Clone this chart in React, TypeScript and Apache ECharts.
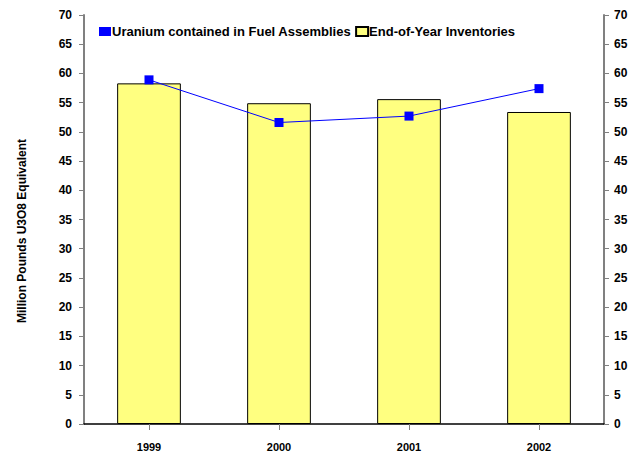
import React, { useEffect, useRef } from "react";
import * as echarts from "echarts";

const categories = ["1999", "2000", "2001", "2002"];
const fuelAssemblies = [58.9, 51.6, 52.7, 57.4];
const inventories = [58.3, 54.9, 55.6, 53.4];
const seriesNames = ["Uranium contained in Fuel Assemblies", "End-of-Year Inventories"];
const yAxisName = "Million Pounds U3O8 Equivalent";

const FONT = "'Liberation Sans Narrow', 'Arial Narrow', 'Liberation Sans', Arial, sans-serif";

export default function App() {
  const ref = useRef<HTMLDivElement>(null);
  useEffect(() => {
    if (!ref.current) return;
    const chart = echarts.init(ref.current, undefined, { renderer: "svg" });
    const axisCommon = {
      type: "value" as const,
      min: 0,
      max: 70,
      interval: 5,
      splitLine: { show: false },
      axisLine: { show: true, lineStyle: { color: "#808080", width: 2 } },
      axisTick: { show: true, length: 5, lineStyle: { color: "#808080", width: 1 } },
      axisLabel: { fontFamily: FONT, fontWeight: "bold", fontSize: 12, color: "#000", margin: 12 },
    };
    chart.setOption({
      animation: false,
      backgroundColor: "#fff",
      grid: { left: 84, right: 29, top: 15, bottom: 31 },
      legend: {
        left: 94,
        top: 20,
        itemGap: 4,
        itemWidth: 12,
        itemHeight: 9,
        textStyle: { fontFamily: FONT, fontWeight: "bold", fontSize: 13, color: "#000", padding: [0, 0, 0, -4] },
        data: [
          { name: seriesNames[0], icon: "rect" },
          { name: seriesNames[1], icon: "rect" },
        ],
      },
      graphic: [
        {
          type: "text",
          x: 22,
          y: 231,
          rotation: Math.PI / 2,
          style: {
            text: yAxisName,
            fontFamily: FONT,
            fontWeight: "bold",
            fontSize: 12,
            fill: "#000",
            align: "center",
            verticalAlign: "middle",
          },
        },
      ],
      xAxis: {
        type: "category",
        data: categories,
        axisLine: { show: true, lineStyle: { color: "#000", width: 1.5 } },
        axisTick: { show: true, alignWithLabel: true, length: 6, lineStyle: { color: "#808080" } },
        axisLabel: { fontFamily: FONT, fontWeight: "bold", fontSize: 11, color: "#000", margin: 17 },
      },
      yAxis: [
        { ...axisCommon, position: "left" },
        { ...axisCommon, position: "right", axisLabel: { ...axisCommon.axisLabel, margin: 10 } },
      ],
      series: [
        {
          name: seriesNames[1],
          type: "bar",
          data: inventories,
          barWidth: "49%",
          itemStyle: { color: "#FFFF80", borderColor: "#000", borderWidth: 1 },
          z: 1,
        },
        {
          name: seriesNames[0],
          type: "line",
          data: fuelAssemblies,
          symbol: "rect",
          symbolSize: 9,
          lineStyle: { color: "#0000FF", width: 1 },
          itemStyle: { color: "#0000FF" },
          z: 3,
        },
      ],
    });
    return () => chart.dispose();
  }, []);
  return <div ref={ref} style={{ width: 633, height: 455, position: "absolute", left: 0, top: 0 }} />;
}
